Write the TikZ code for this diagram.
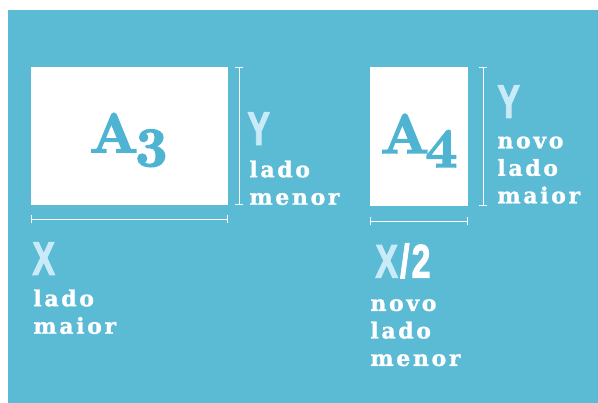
\documentclass[tikz,border=0pt]{standalone}
\usepackage{fontspec}
\usepackage{graphicx}
\usetikzlibrary{positioning,arrows.meta}

\newfontfamily\sidefont[LetterSpace=12,FakeBold=1.2]{DejaVu Serif Bold}
\newfontfamily\letterfont[FakeBold=2.5]{Liberation Sans Bold}
\newfontfamily\sizefont[FakeBold=2.5]{lmroman10-bold.otf}
\newcommand{\narrow}[1]{\scalebox{0.72}[1]{#1}}

\definecolor{paperblue}{HTML}{5BBAD4}
\definecolor{paleblue}{HTML}{C9EBF8}
\definecolor{sizeblue}{HTML}{4FB4D2}

\begin{document}
\begin{tikzpicture}[x=1pt,y=-1pt,thick,
    sheet/.style={fill=white,draw=none,inner sep=0pt},
    ruler/.style={white,line width=1.6pt,{Bar[width=8pt]}-{Bar[width=8pt]}},
    sidename/.style={inner sep=0pt,anchor=north west,text=paleblue,font=\letterfont\fontsize{47}{47}\selectfont},
    sidetext/.style={inner sep=0pt,align=left,text=white,font=\sidefont\fontsize{22}{27.5}\selectfont},
    sizename/.style={inner sep=0pt,text=sizeblue,font=\sizefont\fontsize{56}{56}\selectfont}]

                \useasboundingbox (0,0) rectangle (598,403);
                \fill[paperblue] (8,10) rectangle (598,403);

                % sheets
                \node[sheet,minimum width=197pt,minimum height=138pt] (a3) at (129.5,136) {};
                \node[sheet,minimum width=98pt,minimum height=139pt] (a4) at (419,136.5) {};
                \node[sizename,yshift=-4pt,xshift=-1pt] (a3name) at (a3) {A\kern-3pt\raisebox{-14pt}{3}};
                \node[sizename,yshift=-4pt] (a4name) at (a4) {A\kern-4pt\raisebox{-14pt}{4}};

                % rulers
                \coordinate (a3yt) at ([xshift=11pt]a3.north east);
                \coordinate (a3yb) at ([xshift=11pt]a3.south east);
                \coordinate (a3xl) at ([yshift=-14pt]a3.south west);
                \coordinate (a3xr) at ([yshift=-14pt]a3.south east);
                \coordinate (a4yt) at ([xshift=15pt]a4.north east);
                \coordinate (a4yb) at ([xshift=15pt]a4.south east);
                \coordinate (a4xl) at ([yshift=-15pt]a4.south west);
                \coordinate (a4xr) at ([yshift=-15pt]a4.south east);

                \draw[ruler] (a3yt) -- (a3yb);
                \draw[ruler] (a3xl) -- (a3xr);
                \draw[ruler] (a4yt) -- (a4yb);
                \draw[ruler] (a4xl) -- (a4xr);

                % labels
                \node[sidename] (ya3) at (247,112) {\narrow{Y}};
                \node[sidetext] (ya3text) [below right=15pt and 2pt of ya3.south west] {lado\\menor};
                \node[sidename] (xa3) at (32,242) {\narrow{X}};
                \node[sidetext] (xa3text) [below right=14pt and 1pt of xa3.south west] {lado\\maior};
                \node[sidename] (ya4) at (497,85) {\narrow{Y}};
                \node[sidetext] (ya4text) [below right=18pt and 0pt of ya4.south west] {novo\\lado\\maior};
                \node[sidename] (xa4) at (375,243) {\narrow{X\kern3pt\textcolor{white}{/\kern3pt2}}};
                \node[sidetext] (xa4text) [below right=20pt and -5pt of xa4.south west] {novo\\lado\\menor};

\end{tikzpicture}
\end{document}
